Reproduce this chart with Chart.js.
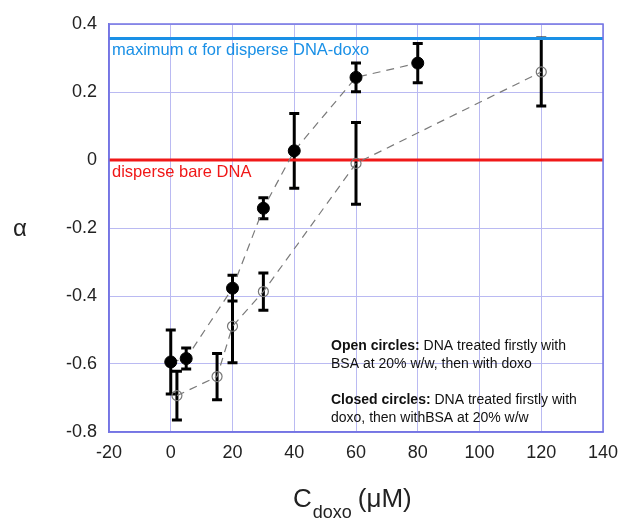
<!DOCTYPE html>
<html lang="en">
<head>
    <meta charset="UTF-8">
    <title>alpha vs C doxo</title>
    <script src="https://cdn.jsdelivr.net/npm/chart.js"></script>
    <style>
        html, body {
            margin: 0;
            padding: 0;
            background: #ffffff;
        }
        #wrap {
            width: 619px;
            height: 518px;
        }
    </style>
</head>
<body>
    <div id="wrap"><canvas id="alphaChart"></canvas></div>

    <script>
        // Closed circles: DNA treated with doxo first, then BSA
        const closedX = [0, 5, 20, 30, 40, 60, 80];
        const closedY = [-0.594, -0.584, -0.377, -0.142, 0.027, 0.243, 0.285];
        const closedErr = [0.094, 0.031, 0.038, 0.031, 0.11, 0.042, 0.058];

        // Open circles: DNA treated with BSA first, then doxo
        const openX = [2, 15, 20, 30, 60, 120];
        const openY = [-0.693, -0.637, -0.489, -0.387, -0.01, 0.259];
        const openErr = [0.072, 0.068, 0.107, 0.055, 0.12, 0.1];

        // reference levels
        const lineX = [-20, 140];
        const maxAlpha = 0.357;
        const bareAlpha = 0;

        const xTicks = [-20, 0, 20, 40, 60, 80, 100, 120, 140];
        const yTicks = [-0.8, -0.6, -0.4, -0.2, 0, 0.2, 0.4];

        const FONT = '"Liberation Sans", Arial, sans-serif';

        const toPoints = (xs, ys) => xs.map((x, i) => ({ x: x, y: ys[i] }));

        // error bars, drawn under the markers
        const errorBars = {
            id: 'errorBars',
            beforeDatasetsDraw(chart) {
                const ctx = chart.ctx;
                const xs = chart.scales.x, ys = chart.scales.y;
                const sets = [[closedX, closedY, closedErr], [openX, openY, openErr]];
                ctx.save();
                ctx.strokeStyle = '#000';
                ctx.lineWidth = 3;
                sets.forEach(([px, py, pe]) => {
                    px.forEach((x, i) => {
                        const cx = xs.getPixelForValue(x);
                        const top = ys.getPixelForValue(py[i] + pe[i]);
                        const bot = ys.getPixelForValue(py[i] - pe[i]);
                        ctx.beginPath();
                        ctx.moveTo(cx, top);
                        ctx.lineTo(cx, bot);
                        ctx.moveTo(cx - 5, top);
                        ctx.lineTo(cx + 5, top);
                        ctx.moveTo(cx - 5, bot);
                        ctx.lineTo(cx + 5, bot);
                        ctx.stroke();
                    });
                });
                ctx.restore();
            }
        };

        // frame, annotations and axis titles
        const decorations = {
            id: 'decorations',
            afterDraw(chart) {
                const ctx = chart.ctx;
                const a = chart.chartArea;
                const ys = chart.scales.y;
                ctx.save();
                ctx.strokeStyle = '#7474e4';
                ctx.lineWidth = 1.5;
                ctx.strokeRect(a.left, a.top, a.right - a.left, a.bottom - a.top);

                ctx.textBaseline = 'alphabetic';
                ctx.textAlign = 'left';
                ctx.font = '16.5px ' + FONT;
                ctx.fillStyle = '#1a90e6';
                ctx.fillText('maximum \u03B1 for disperse DNA-doxo', a.left + 3, ys.getPixelForValue(maxAlpha) + 16.5);
                ctx.fillStyle = '#f01818';
                ctx.fillText('disperse bare DNA', a.left + 3, ys.getPixelForValue(bareAlpha) + 16.5);

                // legend text block
                const notes = [
                    ['Open circles:', ' DNA treated firstly with', 350],
                    ['', 'BSA at 20% w/w, then with doxo', 368],
                    ['Closed circles:', ' DNA treated firstly with', 404],
                    ['', 'doxo, then withBSA at 20% w/w', 422]
                ];
                ctx.fillStyle = '#111';
                notes.forEach(([b, t, y]) => {
                    let x = 331;
                    if (b) {
                        ctx.font = 'bold 14px ' + FONT;
                        ctx.fillText(b, x, y);
                        x += ctx.measureText(b).width;
                    }
                    ctx.font = '14px ' + FONT;
                    ctx.fillText(t, x, y);
                });

                // y title
                ctx.fillStyle = '#222';
                ctx.textAlign = 'center';
                ctx.font = '24px ' + FONT;
                ctx.fillText('\u03B1', 20, 236);

                // x title with subscript
                ctx.textAlign = 'left';
                ctx.font = '26px ' + FONT;
                let tx = 293;
                ctx.fillText('C', tx, 507);
                tx += ctx.measureText('C').width + 1;
                ctx.font = '18px ' + FONT;
                ctx.fillText('doxo', tx, 518);
                tx += ctx.measureText('doxo').width + 6;
                ctx.font = '26px ' + FONT;
                ctx.fillText('(\u03BCM)', tx, 507);
                ctx.restore();
            }
        };

        const ctx = document.getElementById('alphaChart').getContext('2d');
        new Chart(ctx, {
            type: 'scatter',
            data: {
                datasets: [
                    {
                        label: 'Closed circles',
                        data: toPoints(closedX, closedY),
                        showLine: true,
                        tension: 0,
                        borderColor: '#7a7a7a',
                        borderWidth: 1.2,
                        borderDash: [8, 6],
                        pointRadius: 6,
                        pointBackgroundColor: '#000',
                        pointBorderColor: '#000',
                        pointBorderWidth: 1
                    },
                    {
                        label: 'Open circles',
                        data: toPoints(openX, openY),
                        showLine: true,
                        tension: 0,
                        borderColor: '#7a7a7a',
                        borderWidth: 1.2,
                        borderDash: [8, 6],
                        pointRadius: 5,
                        pointBackgroundColor: 'rgba(0,0,0,0)',
                        pointBorderColor: '#777',
                        pointBorderWidth: 1.2
                    },
                    {
                        label: 'max',
                        data: toPoints(lineX, lineX.map(() => maxAlpha)),
                        showLine: true,
                        borderColor: '#1a90e6',
                        borderWidth: 3,
                        pointRadius: 0
                    },
                    {
                        label: 'bare',
                        data: toPoints(lineX, lineX.map(() => bareAlpha)),
                        showLine: true,
                        borderColor: '#f01818',
                        borderWidth: 3,
                        pointRadius: 0
                    }
                ]
            },
            options: {
                responsive: true,
                maintainAspectRatio: false,
                animation: false,
                layout: {
                    padding: { top: 24, right: 16, left: 0, bottom: 0 }
                },
                plugins: {
                    legend: { display: false },
                    tooltip: { enabled: false }
                },
                scales: {
                    x: {
                        type: 'linear',
                        min: -20,
                        max: 140,
                        afterFit: s => {
                            s.height = 86;
                            s.paddingLeft = 0;
                            s.paddingRight = 0;
                        },
                        afterBuildTicks: s => { s.ticks = xTicks.map(v => ({ value: v })); },
                        grid: { color: '#babaf2', lineWidth: 1, drawTicks: false },
                        border: { color: '#7474e4', width: 1.5 },
                        ticks: {
                            padding: 10,
                            color: '#222',
                            font: { family: FONT, size: 18 }
                        }
                    },
                    y: {
                        type: 'linear',
                        min: -0.8,
                        max: 0.4,
                        afterFit: s => {
                            s.width = 109;
                            s.paddingTop = 0;
                            s.paddingBottom = 0;
                        },
                        afterBuildTicks: s => { s.ticks = yTicks.map(v => ({ value: v })); },
                        grid: { color: '#babaf2', lineWidth: 1, drawTicks: false },
                        border: { color: '#7474e4', width: 1.5 },
                        ticks: {
                            padding: 12,
                            color: '#222',
                            font: { family: FONT, size: 18 },
                            callback: v => (Math.abs(v) < 1e-9 ? '0' : String(Math.round(v * 10) / 10))
                        }
                    }
                }
            },
            plugins: [errorBars, decorations]
        });
    </script>
</body>
</html>
